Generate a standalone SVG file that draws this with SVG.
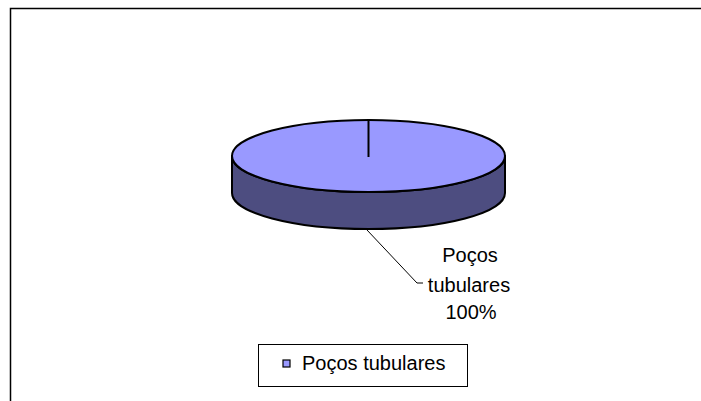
<svg xmlns="http://www.w3.org/2000/svg" width="701" height="401" viewBox="0 0 701 401">
<style>
.t{font-family:"Liberation Sans",Arial,sans-serif;font-size:20px;fill:#000}
.o{stroke:#000;stroke-width:2;stroke-linejoin:round}
</style>
<rect width="701" height="401" fill="#fff"/>
<g id="frame" fill="none" stroke="#000" stroke-width="1.5">
<polyline points="10.5,401 10.5,8.5 701,8.5"/>
</g>
<g id="pie">
<path class="o" d="M232,156 L232,193 A136.5,36 0 0 0 505,193 L505,156 A136.5,36 0 0 1 232,156 Z" fill="#4D4D80"/>
<ellipse class="o" cx="368.5" cy="156" rx="136.5" ry="36" fill="#9999FF"/>
<line x1="368.5" y1="120" x2="368.5" y2="157" stroke="#000" stroke-width="2"/>
</g>
<g id="connectors" fill="none" stroke="#000" stroke-width="1">
<polyline points="367,230 417,283 423,283"/>
</g>
<g id="label">
<text class="t" text-anchor="middle" x="470" y="262">Poços</text>
<text class="t" text-anchor="middle" x="469" y="292">tubulares</text>
<text class="t" text-anchor="middle" x="471" y="319">100%</text>
</g>
<g id="legend">
<rect x="258.5" y="344.5" width="209" height="42" fill="#fff" stroke="#000" stroke-width="1"/>
<rect x="283" y="360" width="7" height="7" fill="#9999FF" stroke="#000" stroke-width="1.2"/>
<text class="t" x="302" y="370">Poços tubulares</text>
</g>
</svg>
